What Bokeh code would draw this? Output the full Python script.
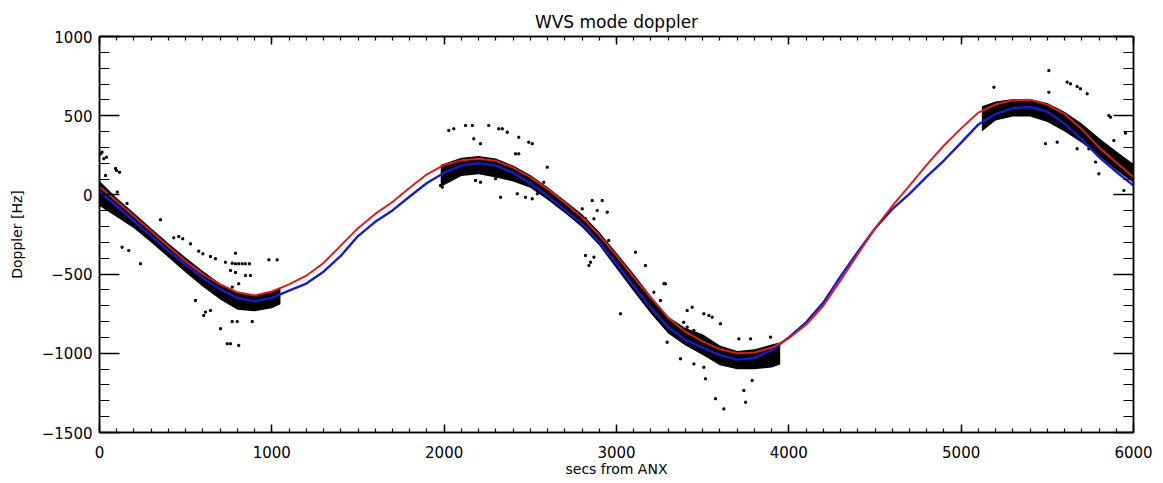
from bokeh.plotting import figure
from bokeh.models import Range1d, SingleIntervalTicker, LinearAxis
from bokeh.embed import file_html
from bokeh.resources import INLINE

# ---- model curves (secs from ANX, Doppler Hz) ----
curve_x = list(range(0, 6001, 100))
red_y = [50, -40, -135, -230, -325, -420, -500, -565, -615, -635,
         -610, -565, -510, -430, -320, -210, -120, -45, 45, 130,
         190, 218, 228, 215, 172, 112, 38, -50, -141, -255,
         -383, -520, -650, -775, -865, -925, -975, -1000, -995, -965,
         -905, -820, -700, -540, -375, -212, -70, 59, 190, 312,
         420, 520, 572, 598, 600, 570, 510, 415, 300, 205, 112]
blue_y = [20, -70, -165, -260, -355, -440, -525, -595, -650, -672,
          -650, -605, -560, -485, -385, -260, -170, -98, -10, 75,
          140, 185, 200, 185, 140, 72, -5, -95, -183, -300,
          -435, -575, -715, -835, -915, -965, -1012, -1040, -1030, -980,
          -900, -805, -680, -515, -360, -212, -90, 7, 115, 217,
          330, 445, 510, 548, 555, 525, 450, 350, 238, 145, 59]

# ---- measured doppler: dense bands (upper / lower envelope) ----
seg1_x = [0, 100, 200, 300, 400, 500, 600, 700, 800, 900, 1000, 1050]
seg1_hi = [90, -20, -115, -210, -305, -395, -480, -560, -615, -630, -610, -585]
seg1_lo = [-70, -140, -210, -300, -395, -490, -580, -660, -725, -735, -715, -690]

seg2_x = [1980, 2100, 2200, 2300, 2400, 2500, 2600, 2700, 2800, 2900, 3000,
          3100, 3200, 3300, 3400, 3500, 3600, 3700, 3800, 3900, 3950]
seg2_hi = [190, 235, 245, 230, 185, 125, 50, -35, -120, -235, -365,
           -500, -640, -770, -840, -880, -950, -985, -975, -945, -930]
seg2_lo = [50, 120, 130, 110, 85, 45, -30, -115, -205, -320, -465,
           -610, -750, -875, -950, -1010, -1075, -1100, -1100, -1090, -1070]

seg3_x = [5120, 5200, 5300, 5400, 5500, 5600, 5700, 5800, 5900, 6000]
seg3_hi = [560, 590, 605, 605, 580, 525, 450, 360, 275, 195]
seg3_lo = [400, 470, 495, 495, 460, 400, 330, 245, 155, 75]

# ---- measured doppler: scattered outliers ----
out_x = [15, 41, 99, 35, 6, 25, 93, 116, 103, 160, 354, 131, 170, 238, 431, 460, 483,
         528, 576, 600, 644, 673, 731, 770, 789, 808, 828, 847, 870, 789, 983, 1031,
         760, 789, 847, 876, 808, 770, 702, 741, 760, 808, 770, 799, 886, 605, 557, 644, 615,
         2027, 2056, 2124, 2163, 2259, 2317, 2337, 2366, 2172, 2211, 2433, 2491, 2511,
         2414, 2433, 2327, 1979, 1989, 2182, 2211, 2298, 2424, 2472, 2511, 2540, 2598,
         2578, 2859, 2917, 2801, 2888, 2946, 2820, 2869, 2955, 2946, 3110, 3168, 3275,
         3217, 3255, 2820, 2840, 2849, 2869, 3023, 3410, 3439, 3507, 3555, 3603, 3710,
         3778, 3894, 3390, 3410, 3449, 3371, 3284, 3536, 3516, 3574, 3623, 3739, 3749,
         3787, 3294, 3371, 3449, 3507,
         5509, 5615, 5634, 5673, 5692, 5731, 5190, 5509, 5857, 5867, 5954, 5489, 5557,
         5673, 5741, 5780, 5799, 5944, 5886]
out_y = [270, 238, 154, 123, 259, 228, 167, 143, 18, -54, -157, -330, -351, -435, -271, -263, -277,
         -309, -355, -372, -389, -403, -425, -431, -435, -435, -435, -435, -435, -368, -410, -410,
         -477, -490, -509, -509, -561, -582, -845, -940, -940, -950, -800, -800, -800, -761, -667, -730, -740,
         407, 417, 438, 438, 438, 417, 417, 396, 354, 323, 364, 333, 323,
         259, 259, -15, 59, 49, 91, 80, 102, 7, -15, -25, 7, 175,
         80, -36, -36, -88, -99, -109, -151, -151, -288, -330, -362, -446, -561,
         -614, -667, -383, -446, -425, -393, -751, -730, -709, -751, -772, -814, -909,
         -909, -898, -804, -835, -856, -877, -561, -761, -1161, -1287, -1351, -1235, -1309,
         -1172, -930, -1035, -1067, -1088,
         785, 712, 701, 684, 670, 638, 680, 648, 501, 491, 390, 323, 333,
         291, 291, 207, 133, 28, 343]

FONT = "DejaVu Sans"

p = figure(width=1160, height=480, output_backend="svg", toolbar_location=None,
           x_range=Range1d(0, 6000), y_range=Range1d(-1500, 1000),
           min_border_left=99, min_border_right=27, min_border_top=36, min_border_bottom=48,
           background_fill_color="white", border_fill_color="white")

p.title.text = "WVS mode doppler"
p.title.align = "center"
p.title.text_font = FONT
p.title.text_font_size = "17px"
p.title.text_font_style = "normal"
p.title.text_color = "black"

p.grid.visible = False
p.outline_line_color = "black"
p.outline_line_width = 1.5

def common(ax, labels):
    ax.major_tick_out = 0
    ax.minor_tick_out = 0
    ax.axis_line_color = "black"
    ax.axis_line_width = 1.5
    ax.major_tick_line_color = "black"
    ax.minor_tick_line_color = "black"
    ax.major_tick_line_width = 1.5
    ax.minor_tick_line_width = 1.2
    ax.major_label_text_font = FONT
    if labels:
        ax.major_label_text_color = "black"
        ax.major_label_text_font_size = "15px"
    else:
        ax.major_label_text_color = None
        ax.major_label_text_font_size = "0px"
        ax.major_label_standoff = 0

def style_x(ax, labels=True):
    ax.ticker = SingleIntervalTicker(interval=1000, num_minor_ticks=10)
    ax.major_tick_in = 8
    ax.minor_tick_in = 4
    common(ax, labels)
    if labels:
        ax.major_label_standoff = 13

def style_y(ax, labels=True):
    ax.ticker = SingleIntervalTicker(interval=500, num_minor_ticks=5)
    ax.major_tick_in = 20
    ax.minor_tick_in = 10
    common(ax, labels)
    if labels:
        ax.major_label_standoff = 7

style_x(p.xaxis[0])
style_y(p.yaxis[0])
for ax, lab, so in ((p.xaxis[0], "secs from ANX", 0), (p.yaxis[0], "Doppler [Hz]", 14)):
    ax.axis_label = lab
    ax.axis_label_text_font = FONT
    ax.axis_label_text_font_size = "14px"
    ax.axis_label_text_font_style = "normal"
    ax.axis_label_text_color = "black"
    ax.axis_label_standoff = so

top = LinearAxis()
style_x(top, labels=False)
p.add_layout(top, "above")
right = LinearAxis()
style_y(right, labels=False)
p.add_layout(right, "right")

# scattered measurements
p.scatter(out_x, out_y, marker="square", size=2, color="black")

# dense measurement bands
p.varea(x=seg1_x, y1=seg1_lo, y2=seg1_hi, color="black")
p.varea(x=seg2_x, y1=seg2_lo, y2=seg2_hi, color="black")
p.varea(x=seg3_x, y1=seg3_lo, y2=seg3_hi, color="black")

# model curves
p.line(curve_x, blue_y, line_color="#1a1ac8", line_width=2.4)
p.line(curve_x, red_y, line_color="#d81e1e", line_width=2)

open("out.html", "w").write(file_html(p, INLINE))
